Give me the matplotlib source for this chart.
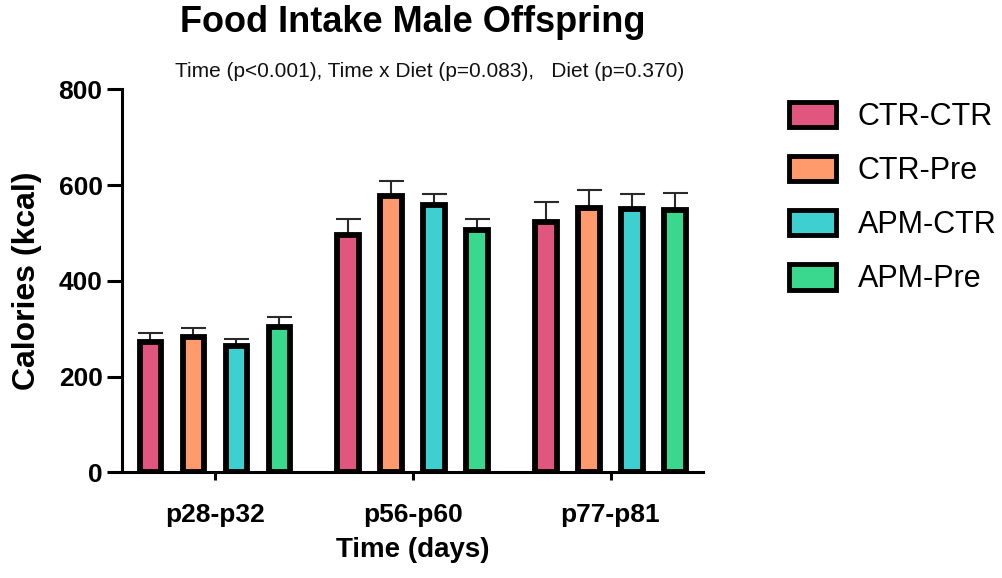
import numpy as np
import matplotlib
matplotlib.use('Agg')
import matplotlib.pyplot as plt
from matplotlib.patches import Patch

plt.rcParams['font.family'] = ['Liberation Sans', 'DejaVu Sans']

periods = ['p28-p32', 'p56-p60', 'p77-p81']
groups = ['CTR-CTR', 'CTR-Pre', 'APM-CTR', 'APM-Pre']
colors = ['#E0567F', '#FF9A6C', '#3ECFD0', '#3AD88E']

# mean kcal per group, one value per period
ctr_ctr = [272, 495, 524]
ctr_pre = [282, 577, 552]
apm_ctr = [263, 559, 551]
apm_pre = [304, 506, 548]
means = [ctr_ctr, ctr_pre, apm_ctr, apm_pre]

# SEM (upper bars only)
ctr_ctr_err = [19, 35, 40]
ctr_pre_err = [20, 31, 38]
apm_ctr_err = [16, 22, 30]
apm_pre_err = [21, 23, 35]
errs = [ctr_ctr_err, ctr_pre_err, apm_ctr_err, apm_pre_err]

fig = plt.figure(figsize=(10.03, 5.78), dpi=100)
ax = fig.add_axes([0.1216, 0.1827, 0.5793, 0.6626])

gap = 4.6
centers = np.arange(len(periods)) * gap
for i, g in enumerate(groups):
    x = centers + (i - 1.5)
    ax.errorbar(x, means[i], yerr=[np.zeros(len(periods)), errs[i]],
                fmt='none', ecolor='#2a2a2a', elinewidth=1.5,
                capsize=9, capthick=1.5, zorder=1)
    ax.bar(x, means[i], width=0.5, color=colors[i], edgecolor='black',
           linewidth=4.2, zorder=2)

ax.set_xlim(-2.16, 11.35)
ax.set_ylim(0, 800)
ax.set_yticks([0, 200, 400, 600, 800])
ax.set_xticks(centers)
ax.set_xticklabels(periods)

for s in ['top', 'right']:
    ax.spines[s].set_visible(False)
for s in ['left', 'bottom']:
    ax.spines[s].set_linewidth(2.2)

ax.tick_params(axis='y', length=11, width=2.2, pad=3, labelsize=19)
ax.tick_params(axis='x', length=6, width=2.2, pad=16, labelsize=19)
for lab in ax.get_xticklabels() + ax.get_yticklabels():
    lab.set_fontweight('bold')

ax.set_ylabel('Calories (kcal)', fontsize=23, fontweight='bold', labelpad=12)
ax.set_xlabel('Time (days)', fontsize=20, fontweight='bold', labelpad=7)

fig.text(0.412, 1 - 32 / 578, 'Food Intake Male Offspring', ha='center',
         va='baseline', fontsize=26, fontweight='bold')
fig.text(0.428, 1 - 77 / 578,
         'Time (p<0.001), Time x Diet (p=0.083),   Diet (p=0.370)',
         ha='center', va='baseline', fontsize=15, color='#111111')

handles = [Patch(facecolor=c, edgecolor='black', linewidth=3.5) for c in colors]
fig.legend(handles, groups, loc='upper left',
           bbox_to_anchor=(789 / 1003, 1 - 102 / 578), frameon=False,
           fontsize=22, handlelength=1.54, handleheight=0.9,
           handletextpad=0.7, labelspacing=0.78, borderpad=0,
           borderaxespad=0)

fig.savefig('out.png', dpi=100)
